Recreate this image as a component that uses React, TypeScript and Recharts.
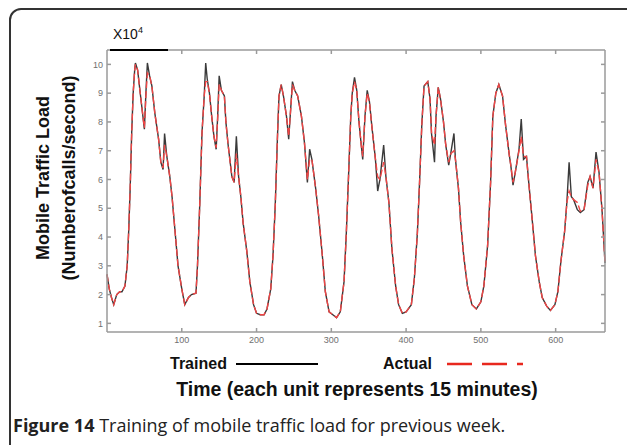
import React from 'react';
import { LineChart, Line, XAxis, YAxis } from 'recharts';

// time index (units of 15 minutes) and traffic load in x10^4 calls/second
const time = [
  0, 3, 6, 9, 13, 17, 20, 24, 27, 29, 31, 33, 35, 37, 38, 41, 44, 48, 50, 52, 54, 57, 60, 64, 69, 72, 75, 77, 80, 84, 87, 91, 95,
  100, 104, 109, 113, 119, 121, 124, 127, 130, 132, 134, 137, 140, 143, 146, 148, 150, 153, 157, 159, 162, 167, 170, 173, 176, 179, 182, 187, 191, 196,
  200, 205, 210, 214, 219, 222, 225, 228, 230, 233, 236, 240, 243, 245, 248, 251, 255, 260, 264, 268, 271, 274, 279, 283, 288, 292, 297,
  302, 307, 312, 317, 320, 323, 326, 328, 331, 334, 337, 340, 342, 345, 348, 351, 354, 359, 362, 365, 370, 373, 377, 381, 386, 390, 395,
  400, 407, 411, 415, 418, 421, 424, 429, 432, 434, 438, 440, 443, 446, 450, 453, 457, 460, 464, 466, 470, 473, 477, 482, 488, 494,
  500, 504, 509, 513, 516, 520, 524, 529, 533, 538, 540, 543, 546, 551, 554, 557, 561, 564, 569, 573, 578, 582, 588, 593, 599,
  603, 607, 612, 615, 618, 621, 624, 629, 633, 638, 643, 646, 650, 654, 658, 662, 664, 666,
];
const trained = [
  2.7, 2.2, 1.9, 1.65, 2.0, 2.1, 2.1, 2.3, 3.0, 4.2, 5.7, 7.6, 9.0, 9.8, 10.05, 9.8, 9.1, 8.2, 7.75, 9.0, 10.05, 9.6, 9.25, 8.3, 7.4, 6.6, 6.35, 7.6, 6.8, 6.1, 5.4, 4.2, 3.0,
  2.2, 1.65, 1.9, 2.0, 2.05, 3.0, 5.1, 7.6, 8.9, 10.05, 9.5, 9.0, 8.2, 7.5, 7.05, 8.2, 9.6, 9.1, 8.9, 8.0, 7.2, 6.1, 5.9, 7.5, 6.1, 5.4, 4.5, 3.5, 2.45, 1.65,
  1.35, 1.3, 1.3, 1.5, 2.2, 3.35, 5.1, 7.5, 8.9, 9.3, 8.9, 8.2, 7.4, 8.2, 9.4, 9.1, 8.9, 8.2, 7.3, 5.9, 7.05, 6.7, 5.7, 4.75, 3.35, 2.1, 1.4,
  1.3, 1.2, 1.4, 2.45, 4.1, 6.1, 8.2, 9.0, 9.55, 9.1, 8.0, 7.2, 6.7, 8.2, 9.1, 8.7, 7.9, 6.7, 5.6, 6.0, 7.2, 6.1, 5.2, 3.6, 2.3, 1.65, 1.35,
  1.4, 1.65, 2.55, 4.1, 5.9, 7.9, 9.25, 9.4, 8.8, 7.6, 6.6, 8.2, 9.2, 8.8, 8.0, 7.2, 6.5, 6.95, 7.6, 6.7, 5.7, 4.5, 3.35, 2.3, 1.65, 1.5,
  1.75, 2.3, 3.7, 5.9, 8.2, 9.0, 9.3, 8.9, 7.9, 6.85, 6.5, 5.8, 6.25, 7.05, 8.1, 6.7, 6.8, 5.9, 4.5, 3.35, 2.45, 1.9, 1.6, 1.45, 1.65,
  2.1, 3.15, 4.2, 5.2, 6.6, 5.4, 5.3, 4.95, 4.85, 4.95, 5.9, 6.1, 5.7, 6.95, 6.25, 4.95, 4.05, 3.1,
];
const actual = [
  2.7, 2.2, 1.9, 1.65, 2.0, 2.1, 2.1, 2.3, 3.0, 4.2, 5.7, 7.6, 9.0, 9.8, 10.0, 9.8, 9.1, 8.2, 7.8, 8.9, 9.7, 9.6, 9.25, 8.3, 7.4, 6.6, 6.4, 7.2, 6.8, 6.1, 5.4, 4.2, 3.0,
  2.2, 1.65, 1.9, 2.0, 2.05, 3.0, 5.1, 7.6, 8.9, 9.4, 9.4, 9.0, 8.2, 7.5, 7.1, 8.1, 9.3, 9.1, 8.9, 8.0, 7.2, 6.1, 5.9, 6.9, 6.1, 5.4, 4.5, 3.5, 2.45, 1.65,
  1.35, 1.3, 1.3, 1.5, 2.2, 3.35, 5.1, 7.5, 8.9, 9.3, 8.9, 8.2, 7.5, 8.2, 9.3, 9.1, 8.9, 8.2, 7.3, 6.0, 6.7, 6.7, 5.7, 4.75, 3.35, 2.1, 1.4,
  1.3, 1.2, 1.4, 2.45, 4.1, 6.1, 8.2, 9.0, 9.4, 9.1, 8.0, 7.2, 6.8, 8.2, 9.0, 8.7, 7.9, 6.7, 6.1, 6.0, 6.6, 6.1, 5.2, 3.6, 2.3, 1.65, 1.35,
  1.4, 1.65, 2.55, 4.1, 5.9, 7.9, 9.25, 9.4, 8.8, 7.6, 7.2, 8.2, 9.2, 8.8, 8.0, 7.2, 6.6, 6.9, 7.0, 6.7, 5.7, 4.5, 3.35, 2.3, 1.65, 1.5,
  1.75, 2.3, 3.7, 5.9, 8.2, 9.0, 9.3, 8.9, 7.9, 6.85, 6.5, 5.9, 6.25, 7.0, 7.5, 6.8, 6.8, 5.9, 4.5, 3.35, 2.45, 1.9, 1.6, 1.45, 1.65,
  2.1, 3.15, 4.2, 5.2, 5.6, 5.4, 5.3, 5.2, 4.9, 4.95, 5.8, 6.1, 5.7, 6.7, 6.25, 4.95, 4.05, 3.1,
];
const xTicks = [100, 200, 300, 400, 500, 600];
const yTicks = [1, 2, 3, 4, 5, 6, 7, 8, 9, 10];

const rows = time.map((t, i) => ({ t, trained: trained[i], actual: actual[i] }));

const axisGrey = '#9a9a9a';
const tickStyle = { fill: '#707070', fontSize: 9, fontFamily: 'Liberation Sans, Arial' };
const bold = { fontFamily: 'Liberation Sans, Arial, sans-serif', fontWeight: 700, color: '#111' } as const;

export default function App() {
  return (
    <div style={{ position: 'absolute', left: 0, top: 0, width: 627, height: 445, overflow: 'hidden', background: '#fff' }}>
      <div style={{ position: 'absolute', left: 9, top: 8, width: 650, height: 470, border: '2px solid #333', borderRadius: 12 }} />

      <LineChart width={627} height={445} data={rows} margin={{ top: 49, right: 21, left: 87, bottom: 93 }} style={{ position: 'absolute', left: 0, top: 0 }}>
        <XAxis xAxisId="b" dataKey="t" type="number" domain={[0, 666]} ticks={xTicks} height={20} tickSize={-4} tickMargin={9}
          stroke={axisGrey} strokeWidth={1.5} tick={tickStyle} />
        <XAxis xAxisId="top" orientation="top" dataKey="t" type="number" domain={[0, 666]} ticks={xTicks} height={1} tickSize={-4}
          stroke={axisGrey} strokeWidth={1.5} tickFormatter={() => ''} />
        <YAxis yAxisId="l" type="number" domain={[0.7, 10.5]} ticks={yTicks} width={20} tickSize={-4} tickMargin={8}
          stroke={axisGrey} strokeWidth={1.5} tick={tickStyle} />
        <YAxis yAxisId="r" orientation="right" type="number" domain={[0.7, 10.5]} ticks={yTicks} width={1} tickSize={-4}
          stroke={axisGrey} strokeWidth={1.5} tickFormatter={() => ''} />
        {/* invisible series so the mirrored frame axes get drawn */}
        <Line xAxisId="top" yAxisId="r" type="linear" dataKey="actual" stroke="none" dot={false} activeDot={false} legendType="none" isAnimationActive={false} />
        <Line xAxisId="b" yAxisId="l" type="linear" dataKey="trained" stroke="#3a3a3a" strokeWidth={1.4} dot={false} isAnimationActive={false} />
        <Line xAxisId="b" yAxisId="l" type="linear" dataKey="actual" stroke="#f04545" strokeWidth={1.4} strokeDasharray="7 3" dot={false} isAnimationActive={false} />
      </LineChart>

      {/* black stroke under the exponent label */}
      <div style={{ position: 'absolute', left: 110, top: 49, width: 58, height: 1.5, background: '#000' }} />
      <div style={{ position: 'absolute', left: 113, top: 25, fontFamily: 'Liberation Sans, Arial', fontSize: 14, color: '#111' }}>
        X10<sup style={{ fontSize: 9 }}>4</sup>
      </div>

      <div style={{ ...bold, position: 'absolute', left: 43, top: 178, fontSize: 18, whiteSpace: 'nowrap', transform: 'translate(-50%, -50%) rotate(-90deg)' }}>
        Mobile Traffic Load
      </div>
      <div style={{ ...bold, position: 'absolute', left: 69, top: 178, fontSize: 18, whiteSpace: 'nowrap', transform: 'translate(-50%, -50%) rotate(-90deg)' }}>
        (Numberofcalls/second)
      </div>

      {/* legend */}
      <div style={{ ...bold, position: 'absolute', left: 170, top: 355, fontSize: 16, lineHeight: '18px' }}>Trained</div>
      <svg style={{ position: 'absolute', left: 236, top: 360 }} width={84} height={8}>
        <line x1={0} y1={4} x2={82} y2={4} stroke="#000" strokeWidth={2} />
      </svg>
      <div style={{ ...bold, position: 'absolute', left: 383, top: 355, fontSize: 16, lineHeight: '18px' }}>Actual</div>
      <svg style={{ position: 'absolute', left: 447, top: 360 }} width={80} height={8}>
        <line x1={0} y1={4} x2={76} y2={4} stroke="#e8281e" strokeWidth={2.5} strokeDasharray="25 10" />
      </svg>

      <div style={{ ...bold, position: 'absolute', left: 0, width: 714, top: 377, fontSize: 19.5, textAlign: 'center', lineHeight: '24px' }}>
        Time (each unit represents 15 minutes)
      </div>

      <div style={{ position: 'absolute', left: 13, top: 413, fontFamily: 'Open Sans, sans-serif', fontSize: 18, color: '#222', whiteSpace: 'nowrap', lineHeight: '24px' }}>
        <b>Figure 14</b> Training of mobile traffic load for previous week.
      </div>
    </div>
  );
}
